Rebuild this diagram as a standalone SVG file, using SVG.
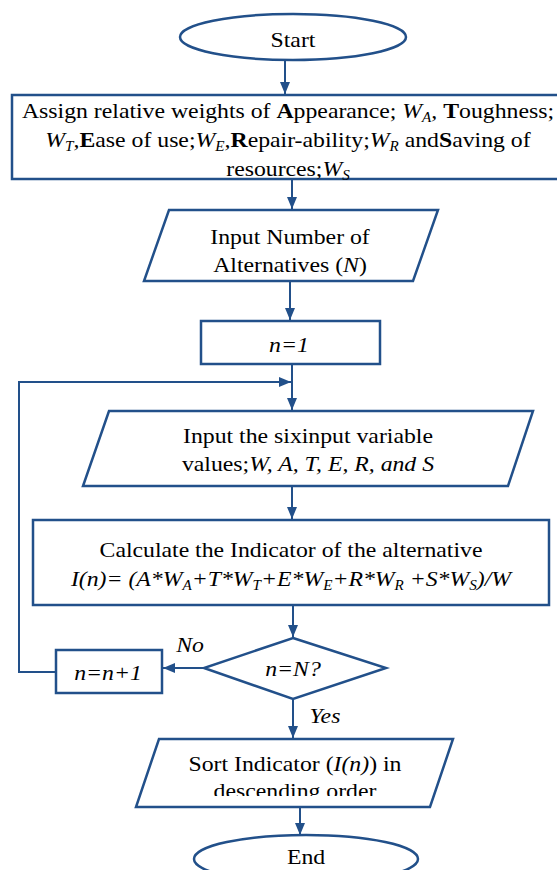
<svg xmlns="http://www.w3.org/2000/svg" width="557" height="870" viewBox="0 0 557 870">
<style>
.s{fill:#fff;stroke:#22508a;stroke-width:2.5}
.c{fill:none;stroke:#22508a;stroke-width:2}
text{font-family:"Liberation Serif","Times New Roman",serif;font-size:22px;fill:#000;text-anchor:middle}
.i{font-style:italic}
.b{font-weight:bold}
.sub{font-size:14px}
</style>
<defs>
<marker id="ah" markerUnits="userSpaceOnUse" markerWidth="12" markerHeight="12" viewBox="0 0 12 12" refX="12" refY="6" orient="auto">
<path d="M0,1 L12,6 L0,11 Z" fill="#22508a"/>
</marker>
<clipPath id="sortclip"><rect x="130" y="740" width="330" height="56"/></clipPath>
</defs>

<g id="connectors">
<line class="c" x1="285" y1="61" x2="285" y2="94" marker-end="url(#ah)"/>
<line class="c" x1="292" y1="180" x2="292" y2="209" marker-end="url(#ah)"/>
<line class="c" x1="290" y1="282" x2="290" y2="320" marker-end="url(#ah)"/>
<line class="c" x1="292" y1="364" x2="292" y2="410" marker-end="url(#ah)"/>
<polyline class="c" points="56,672 19,672 19,382 291,382" marker-end="url(#ah)"/>
<line class="c" x1="292" y1="487" x2="292" y2="519" marker-end="url(#ah)"/>
<line class="c" x1="293" y1="605" x2="293" y2="637" marker-end="url(#ah)"/>
<line class="c" x1="204" y1="668" x2="163" y2="668" marker-end="url(#ah)"/>
<line class="c" x1="293" y1="700" x2="293" y2="738" marker-end="url(#ah)"/>
<line class="c" x1="300" y1="808" x2="300" y2="835" marker-end="url(#ah)"/>
</g>

<g id="start">
<ellipse class="s" cx="293" cy="37" rx="113" ry="23"/>
<g transform="translate(293,0) scale(1.08,1)"><text x="0" y="47">Start</text></g>
</g>

<g id="weights">
<rect class="s" x="12" y="95" width="560" height="84"/>
<g transform="translate(288,0) scale(1.08,1)">
<text x="0" y="118">Assign relative weights of <tspan class="b">A</tspan>ppearance; <tspan class="i">W</tspan><tspan class="i sub" dy="4">A</tspan><tspan class="i" dy="-4">, </tspan><tspan class="b">T</tspan>oughness;</text>
<text x="0" y="147"><tspan class="i">W</tspan><tspan class="i sub" dy="4">T</tspan><tspan class="i" dy="-4">,</tspan><tspan class="b">E</tspan>ase of use;<tspan class="i">W</tspan><tspan class="i sub" dy="4">E</tspan><tspan class="i" dy="-4">,</tspan><tspan class="b">R</tspan>epair-ability;<tspan class="i">W</tspan><tspan class="i sub" dy="4">R</tspan><tspan dy="-4"> and</tspan><tspan class="b">S</tspan>aving of</text>
<text x="0" y="176">resources;<tspan class="i">W</tspan><tspan class="i sub" dy="4">S</tspan></text>
</g>
</g>

<g id="input-n">
<polygon class="s" points="169,210 438,210 413,281 144,281"/>
<g transform="translate(290,0) scale(1.08,1)">
<text x="0" y="244">Input Number of</text>
<text x="0" y="272">Alternatives (<tspan class="i">N</tspan>)</text>
</g>
</g>

<g id="init">
<rect class="s" x="201" y="321" width="179" height="43"/>
<g transform="translate(289,0) scale(1.08,1)"><text class="i" x="0" y="352">n=1</text></g>
</g>

<g id="input-values">
<polygon class="s" points="109,411 533,411 508,486 83,486"/>
<g transform="translate(308,0) scale(1.08,1)">
<text x="0" y="443">Input the sixinput variable</text>
<text x="0" y="471">values;<tspan class="i">W, A, T, E, R, and S</tspan></text>
</g>
</g>

<g id="calculate">
<rect class="s" x="33" y="520" width="516" height="85"/>
<g transform="translate(291,0) scale(1.08,1)">
<text x="0" y="557">Calculate the Indicator of the alternative</text>
<text class="i" x="0" y="586">I(n)= (A*W<tspan class="sub" dy="4">A</tspan><tspan dy="-4">+T*W</tspan><tspan class="sub" dy="4">T</tspan><tspan dy="-4">+E*W</tspan><tspan class="sub" dy="4">E</tspan><tspan dy="-4">+R*W</tspan><tspan class="sub" dy="4">R</tspan><tspan dy="-4"> +S*W</tspan><tspan class="sub" dy="4">S</tspan><tspan dy="-4">)/W</tspan></text>
</g>
</g>

<g id="decision">
<polygon class="s" points="293,638 386,668 293,699 204,668"/>
<g transform="translate(293,0) scale(1.08,1)"><text class="i" x="0" y="676">n=N?</text></g>
</g>

<g id="increment">
<rect class="s" x="56" y="650" width="106" height="43"/>
<g transform="translate(108,0) scale(1.08,1)"><text class="i" x="0" y="680">n=n+1</text></g>
</g>

<g id="labels">
<g transform="translate(190,0) scale(1.08,1)"><text class="i" x="0" y="652">No</text></g>
<g transform="translate(325,0) scale(1.08,1)"><text class="i" x="0" y="723">Yes</text></g>
</g>

<g id="sort">
<polygon class="s" points="159,739 453,739 430,807 136,807"/>
<g clip-path="url(#sortclip)">
<g transform="translate(295,0) scale(1.08,1)">
<text x="0" y="771">Sort Indicator (<tspan class="i">I(n)</tspan>) in</text>
<text x="0" y="798">descending order</text>
</g>
</g>
</g>

<g id="end">
<ellipse class="s" cx="306" cy="859" rx="112" ry="24"/>
<g transform="translate(306,0) scale(1.08,1)"><text x="0" y="864">End</text></g>
</g>
</svg>
